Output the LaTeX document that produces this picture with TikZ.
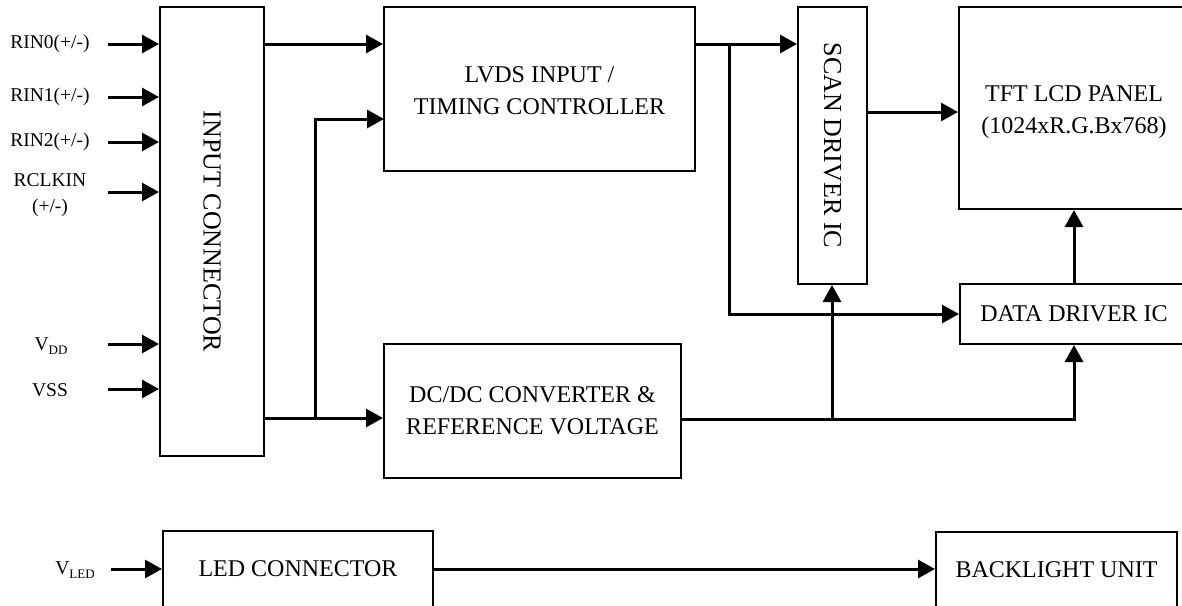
\documentclass[tikz,border=0pt]{standalone}
\usepackage{fontspec}
\setmainfont{Liberation Serif}
\usetikzlibrary{arrows.meta}
\newcommand{\twoline}[3]{\raisebox{#1}[\height][\depth]{\begin{tabular}{@{}c@{}}#2\\#3\end{tabular}}}
\begin{document}
\begin{tikzpicture}[x=1pt,y=-1pt,
  box/.style={draw,line width=2pt,inner sep=0pt,align=center,font=\fontsize{24}{32}\selectfont},
  rotbox/.style={box,font=\fontsize{26}{32}\selectfont},
  conn/.style={line width=3pt,-{Triangle[length=17pt,width=18pt]},line join=miter},
  lbl/.style={font=\fontsize{19.5}{26}\selectfont,align=center,inner sep=0pt}]
\useasboundingbox (0,0) rectangle (1182,605);
\clip (0,0) rectangle (1182,605);
% blocks
\node[rotbox,minimum width=104pt,minimum height=449pt] (inconn) at (212,231.5) {\rotatebox{-90}{INPUT CONNECTOR}};
\node[box,minimum width=311pt,minimum height=164pt] (lvds) at (539.5,89) {\twoline{-3pt}{LVDS INPUT /}{TIMING CONTROLLER}};
\node[box,minimum width=297pt,minimum height=134pt] (dcdc) at (532.5,411) {\twoline{-1pt}{DC/DC CONVERTER \&}{REFERENCE VOLTAGE}};
\node[rotbox,minimum width=69pt,minimum height=277pt] (scan) at (832.5,145.5) {\rotatebox{-90}{SCAN DRIVER IC}};
\node[box,minimum width=230pt,minimum height=202pt] (tft) at (1074,108) {\twoline{-3pt}{TFT LCD PANEL}{(1024xR.G.Bx768)}};
\node[box,minimum width=228pt,minimum height=60pt] (data) at (1074,314) {DATA DRIVER IC};
\node[box,minimum width=270pt,minimum height=76pt] (led) at (298,569) {LED CONNECTOR};
\node[box,minimum width=241pt,minimum height=75pt] (blu) at (1056.5,569.5) {BACKLIGHT UNIT};
% input labels
\node[lbl] (lr0) at (50,44) {RIN0(+/-)};
\node[lbl] (lr1) at (50,97) {RIN1(+/-)};
\node[lbl] (lr2) at (50,142) {RIN2(+/-)};
\node[lbl] (lrc) at (50,195) {RCLKIN\\(+/-)};
\node[lbl] (lvdd) at (51,346) {V\raisebox{-0.4ex}{\fontsize{13}{13}\selectfont DD}};
\node[lbl] (lvss) at (50,390) {VSS};
\node[lbl] (lvled) at (75,570) {V\raisebox{-0.4ex}{\fontsize{13}{13}\selectfont LED}};
% input arrow starts
\coordinate (s0) at (108,44);
\coordinate (s1) at (108,97);
\coordinate (s2) at (108,142);
\coordinate (s3) at (108,192);
\coordinate (s4) at (108,344);
\coordinate (s5) at (108,389);
\coordinate (s6) at (111,569);
\foreach \s in {s0,s1,s2,s3,s4,s5}{\draw[conn] (\s) -- (\s -| inconn.west);}
\draw[conn] (s6) -- (s6 -| led.west);
% internal connections
\coordinate (j1) at (315,418);
\coordinate (lv2) at (384,119);
\draw[conn] (inconn.east |- s0) -- (lvds.west |- s0);
\draw[conn] (inconn.east |- j1) -- (dcdc.west |- j1);
\draw[conn] (j1) |- (lv2);
\coordinate (j2) at (729,44);
\draw[conn] (lvds.east |- s0) -- (scan.west |- s0);
\draw[conn] (j2) |- (data.west);
\coordinate (sc) at (867,112);
\draw[conn] (sc) -- (sc -| tft.west);
\coordinate (j3) at (832,419);
\draw[conn] (dcdc.east |- j3) -| (data.south);
\draw[conn] (j3) -- (j3 |- scan.south);
\draw[conn] (data.north) -- (tft.south);
\draw[conn] (led.east |- s6) -- (blu.west |- s6);
\end{tikzpicture}
\end{document}
